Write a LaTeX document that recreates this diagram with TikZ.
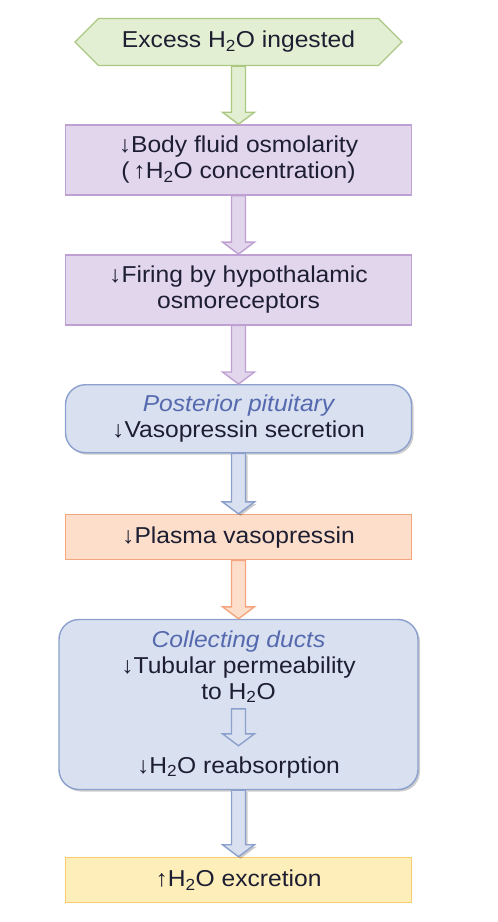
\documentclass[tikz,border=0pt]{standalone}
\usepackage{fontspec}
\setmainfont{Liberation Sans}[FakeStretch=1.07]
\usetikzlibrary{positioning,calc,shapes.symbols,shadows}

\definecolor{greenfill}{RGB}{226,239,210}
\definecolor{greenline}{RGB}{170,200,130}
\definecolor{purplefill}{RGB}{226,214,236}
\definecolor{purpleline}{RGB}{190,160,210}
\definecolor{bluefill}{RGB}{217,224,240}
\definecolor{blueline}{RGB}{140,160,205}
\definecolor{orangefill}{RGB}{252,222,202}
\definecolor{orangeline}{RGB}{245,165,125}
\definecolor{yellowfill}{RGB}{254,238,185}
\definecolor{yellowline}{RGB}{245,205,110}
\definecolor{textcol}{RGB}{30,30,50}
\definecolor{italcol}{RGB}{85,105,175}

% block arrow from one point down to another
\newcommand{\flowarrow}[3][]{%
  \draw[#1] ($(#2)+(-7,0)$) -- ($(#3)+(-7,12)$) -- ($(#3)+(-16,12)$) -- (#3)
    -- ($(#3)+(16,12)$) -- ($(#3)+(7,12)$) -- ($(#2)+(7,0)$) -- cycle;}

\begin{document}
\begin{tikzpicture}[
  x=1pt, y=1pt,
  every node/.style={font=\fontsize{23}{26}\selectfont, text=textcol, align=center},
  softshadow/.style={drop shadow={shadow xshift=2pt, shadow yshift=-2pt, opacity=0.2, fill=black}},
  hexa/.style={signal, signal to=west and east, draw=greenline, fill=greenfill, line width=1.4pt, minimum width=327pt, minimum height=47pt},
  purplebox/.style={draw=purpleline, fill=purplefill, line width=1.4pt, minimum width=346pt, minimum height=70pt},
  bluebox/.style={draw=blueline, fill=bluefill, line width=1.4pt, rounded corners=20pt, softshadow},
  orangebox/.style={draw=orangeline, fill=orangefill, line width=1.4pt, minimum width=346pt, minimum height=45pt},
  yellowbox/.style={draw=yellowline, fill=yellowfill, line width=1.4pt, minimum width=346pt, minimum height=45pt},
  greenarrow/.style={draw=greenline, fill=greenfill, line width=1.4pt},
  purplearrow/.style={draw=purpleline, fill=purplefill, line width=1.4pt},
  bluearrow/.style={draw=blueline, fill=bluefill, line width=1.4pt, softshadow},
  orangearrow/.style={draw=orangeline, fill=orangefill, line width=1.4pt},
  innerarrow/.style={draw=blueline, fill=bluefill, line width=1.4pt}
]
\useasboundingbox (0,0) rectangle (498,-922);

\node[hexa] (ingest) at (238.5,-42) {Excess H\textsubscript{2}O ingested};
\node[purplebox, below=58pt of ingest] (osmo) {↓Body fluid osmolarity\\(\,↑H\textsubscript{2}O concentration)};
\node[purplebox, below=58.5pt of osmo] (firing) {↓Firing by hypothalamic\\osmoreceptors};
\node[bluebox, minimum width=346pt, minimum height=68pt, below=58.5pt of firing] (pituitary)
  {\textcolor{italcol}{\itshape Posterior pituitary}\\↓Vasopressin secretion};
\node[orangebox, below=60.5pt of pituitary] (plasma) {↓Plasma vasopressin};
\node[bluebox, minimum width=359pt, minimum height=170pt, below=58.5pt of plasma] (ducts) {};
\node[below=8pt of ducts.north] (permtxt)
  {\textcolor{italcol}{\itshape Collecting ducts}\\↓Tubular permeability\\to H\textsubscript{2}O};
\node (reabtxt) at ($(ducts.south)+(0,23)$) {↓H\textsubscript{2}O reabsorption};
\node[yellowbox, below=66.5pt of ducts] (excretion) {↑H\textsubscript{2}O excretion};

\coordinate (permend) at ($(ducts.north)+(0,-90)$);
\coordinate (reabtip) at ($(ducts.north)+(0,-127)$);

\flowarrow[greenarrow]{ingest.south}{osmo.north}
\flowarrow[purplearrow]{osmo.south}{firing.north}
\flowarrow[purplearrow]{firing.south}{pituitary.north}
\flowarrow[bluearrow]{pituitary.south}{plasma.north}
\flowarrow[orangearrow]{plasma.south}{ducts.north}
\flowarrow[innerarrow]{permend}{reabtip}
\flowarrow[bluearrow]{ducts.south}{excretion.north}
\end{tikzpicture}
\end{document}
